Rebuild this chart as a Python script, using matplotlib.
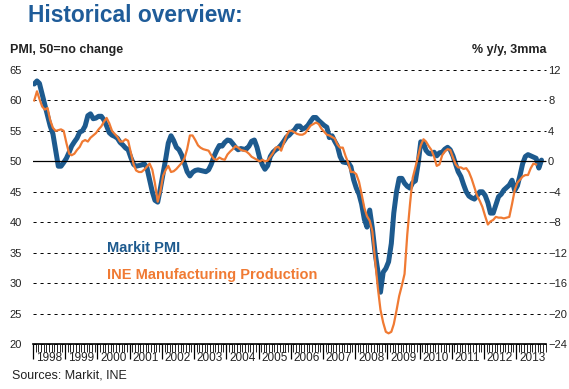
import pandas as pd
import matplotlib
matplotlib.use('Agg')
import matplotlib.pyplot as plt
import matplotlib.dates as mdates

plt.rcParams['font.family'] = ['Liberation Sans', 'DejaVu Sans']

# Markit Spain manufacturing PMI, monthly from Jan 1998
pmi = [
    62.7, 63.2, 62.8, 61.0, 59.3, 57.5, 55.8, 54.5, 51.8, 49.2, 49.2, 49.8,
    50.5, 51.5, 52.5, 53.2, 53.8, 54.8, 55.0, 55.8, 57.5, 57.8, 57.0, 57.1,
    57.4, 57.4, 56.8, 55.8, 54.7, 54.3, 54.1, 53.8, 53.1, 52.7, 52.2, 51.9,
    50.6, 49.5, 49.2, 49.3, 49.4, 49.6, 49.0, 47.0, 45.0, 43.6, 43.3, 45.5,
    48.0, 50.5, 53.0, 54.2, 53.4, 52.3, 51.9, 51.0, 49.6, 48.3, 47.6, 48.2,
    48.5, 48.6, 48.5, 48.4, 48.3, 48.6, 49.5, 50.8, 51.8, 52.6, 52.5, 53.1,
    53.5, 53.4, 52.9, 52.3, 51.9, 52.1, 52.0, 52.0, 52.5, 53.3, 53.5, 52.3,
    50.5, 49.4, 48.7, 49.3, 50.8, 51.5, 51.9, 52.2, 52.7, 53.3, 54.0, 54.3,
    54.8, 55.2, 55.8, 55.8, 55.3, 55.5, 55.9, 56.6, 57.2, 57.2, 56.7, 56.3,
    55.9, 55.6, 53.9, 54.2, 53.3, 52.5, 50.8, 49.9, 49.8, 49.8, 49.1, 47.0,
    45.6, 44.6, 43.0, 40.5, 39.2, 42.0, 39.0, 35.0, 32.0, 28.5, 31.8, 32.4,
    33.5, 36.5, 41.5, 45.0, 47.2, 47.2, 46.4, 45.9, 45.6, 46.5, 46.8, 49.5,
    53.2, 53.0, 51.8, 51.3, 51.2, 51.5, 50.9, 51.4, 51.5, 52.0, 52.3, 51.9,
    50.9, 49.5, 48.3, 47.5, 46.2, 45.0, 44.3, 44.0, 43.8, 44.3, 45.0, 45.0,
    44.4, 43.2, 41.5, 41.5, 42.8, 44.2, 44.6, 45.3, 45.7, 46.1, 46.9, 45.2,
    46.0, 47.8, 49.6, 50.8, 51.1, 50.9, 50.7, 50.5, 48.9, 50.2,
]

# INE manufacturing production, % y/y 3mma, monthly from Jan 1998
ine = [
    8.0, 9.2, 8.2, 7.2, 6.8, 7.0, 5.4, 4.4, 4.0, 4.1, 4.2, 4.0,
    2.4, 1.0, 0.8, 1.0, 1.5, 1.9, 2.6, 2.8, 2.6, 3.1, 3.4, 3.7,
    4.2, 4.6, 5.2, 5.7, 5.0, 4.0, 3.6, 3.2, 2.6, 2.6, 2.9, 2.7,
    1.1, -0.4, -1.2, -1.4, -1.4, -1.1, -0.7, -0.3, -1.1, -2.9, -5.3, -4.0,
    -1.9, -1.1, -0.6, -1.4, -1.3, -1.0, -0.6, -0.2, 0.4, 1.6, 3.4, 3.4,
    2.8, 2.1, 1.8, 1.6, 1.5, 1.4, 0.8, 0.3, 0.2, 0.5, 0.3, 0.2,
    0.9, 1.3, 1.6, 2.0, 1.8, 1.5, 1.4, 1.3, 1.0, 0.6, 0.4, 0.2,
    0.0, 0.2, 0.0, 0.1, 0.6, 1.1, 1.8, 1.9, 1.4, 2.4, 3.4, 4.0,
    4.0, 3.8, 3.6, 3.5, 3.5, 3.7, 4.2, 4.7, 4.9, 5.1, 4.9, 4.3,
    3.9, 3.5, 3.4, 3.2, 3.0, 2.2, 1.8, 1.8, 0.7, -0.2, -1.4, -1.4,
    -1.7, -2.7, -4.3, -6.1, -7.2, -7.8, -9.2, -13.0, -16.6, -19.5, -21.2, -22.4,
    -22.6, -22.4, -21.4, -19.6, -17.7, -16.3, -14.8, -9.6, -5.6, -2.2, -0.8, 0.6,
    2.1, 2.9, 2.6, 2.0, 1.5, 0.6, -0.6, -0.4, 0.8, 1.3, 1.6, 1.5,
    0.5, -0.4, -0.8, -0.8, -1.0, -0.9, -1.4, -2.3, -3.4, -4.5, -5.2, -6.0,
    -7.2, -8.3, -7.9, -7.7, -7.3, -7.4, -7.4, -7.5, -7.4, -7.3, -5.6, -3.8,
    -2.8, -2.4, -2.0, -1.8, -1.8, -0.9, -0.3, -0.4,
]

years = list(range(1998, 2014))
left_ticks = [20, 25, 30, 35, 40, 45, 50, 55, 60, 65]
right_ticks = [-24, -20, -16, -12, -8, -4, 0, 4, 8, 12]
NO_CHANGE = 50

BLUE = '#1d5a8e'
ORANGE = '#f07a33'
TXT = '#222222'

dates_pmi = pd.date_range('1998-01-01', periods=len(pmi), freq='MS') + pd.Timedelta(days=14)
dates_ine = pd.date_range('1998-01-01', periods=len(ine), freq='MS') + pd.Timedelta(days=14)

fig = plt.figure(figsize=(5.69, 3.89), dpi=100)
ax = fig.add_axes([33 / 569, 1 - 344 / 389, 513 / 569, 274 / 389])
ax2 = ax.twinx()

ax.plot(dates_pmi, pmi, color=BLUE, lw=3.6, solid_joinstyle='round', solid_capstyle='round')
ax2.plot(dates_ine, ine, color=ORANGE, lw=1.6, solid_joinstyle='round')

ax.set_ylim(left_ticks[0], left_ticks[-1])
ax2.set_ylim(right_ticks[0], right_ticks[-1])
ax.set_yticks(left_ticks)
ax2.set_yticks(right_ticks)
ax.set_xlim(pd.Timestamp('1998-01-01'), pd.Timestamp('2013-12-05'))

# grid
ax.yaxis.grid(True, color='black', lw=0.7, linestyle=(0, (3.2, 4.0)))
for gl in ax.get_ygridlines():
    gl.set_clip_on(False)
ax.axhline(NO_CHANGE, color='black', lw=0.9)

for a in (ax, ax2):
    for s in ('top', 'left', 'right'):
        a.spines[s].set_visible(False)
ax2.spines['bottom'].set_visible(False)
ax.spines['bottom'].set_linewidth(1.2)

ax.tick_params(axis='y', length=0, pad=8, labelsize=8, labelcolor=TXT)
ax2.tick_params(axis='y', length=0, pad=1.5, labelsize=8, labelcolor=TXT)

# x axis: long ticks at year boundaries, short monthly ticks
ax.xaxis.set_major_locator(mdates.YearLocator())
ax.xaxis.set_minor_locator(mdates.MonthLocator())
ax.tick_params(axis='x', which='major', length=11, width=0.9, labelbottom=False)
ax.tick_params(axis='x', which='minor', length=5.5, width=0.6)

for y in years:
    ax.annotate(str(y), xy=(pd.Timestamp(f'{y}-07-01'), 0), xycoords=('data', 'axes fraction'),
                xytext=(0, -5.5), textcoords='offset points', ha='center', va='top',
                fontsize=8.5, color=TXT)

fig.text(28 / 569, 1 - 22 / 389, 'Historical overview:', fontsize=16.4, fontweight='bold',
         color='#1f5c99', va='baseline')
fig.text(10 / 569, 1 - 52.5 / 389, 'PMI, 50=no change', fontsize=9, fontweight='bold',
         color=TXT, va='baseline')
fig.text(546 / 569, 1 - 52.5 / 389, '% y/y, 3mma', fontsize=9, fontweight='bold',
         color=TXT, va='baseline', ha='right')
fig.text(107 / 569, 1 - 252.5 / 389, 'Markit PMI', fontsize=10.5, fontweight='bold',
         color=BLUE, va='baseline')
fig.text(107 / 569, 1 - 278.5 / 389, 'INE Manufacturing Production', fontsize=10.5,
         fontweight='bold', color=ORANGE, va='baseline')
fig.text(12 / 569, 1 - 379 / 389, 'Sources: Markit, INE', fontsize=9, color=TXT, va='baseline')

fig.savefig('out.png', dpi=100)
